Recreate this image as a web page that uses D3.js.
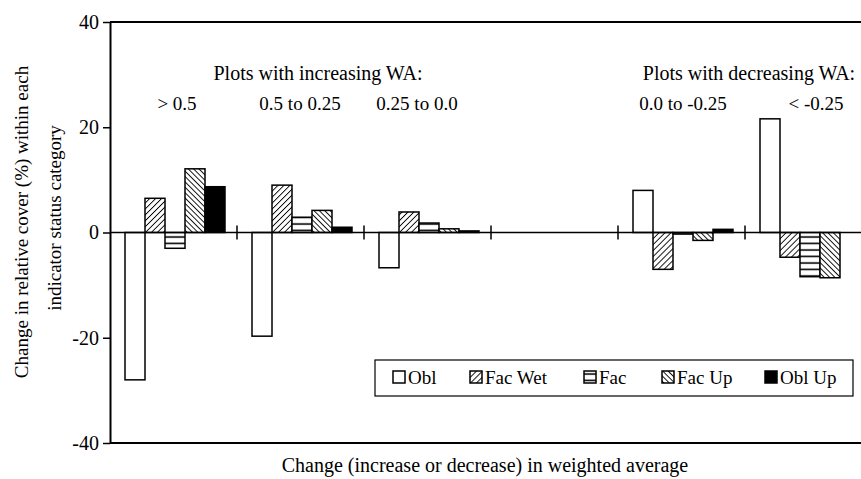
<!DOCTYPE html>
<html>
<head>
<meta charset="utf-8">
<script src="https://cdn.jsdelivr.net/npm/d3@7"></script>
<style>
  body { margin: 0; background: #fff; }
  text { font-family: "Liberation Serif", "Times New Roman", serif; fill: #000; }
</style>
</head>
<body>
<script>
// categories of change in weighted average (4th slot is an empty gap)
var categories = ["> 0.5", "0.5 to 0.25", "0.25 to 0.0", "", "0.0 to -0.25", "< -0.25"];
var series = ["Obl", "Fac Wet", "Fac", "Fac Up", "Obl Up"];

// change in relative cover (%) per indicator status
var obl    = [-28.0, -19.7, -6.7, null,  8.0, 21.6];
var facWet = [  6.5,   9.0,  3.9, null, -7.0, -4.7];
var fac    = [ -3.0,   2.9,  1.8, null, -0.3, -8.4];
var facUp  = [ 12.1,   4.2,  0.7, null, -1.5, -8.6];
var oblUp  = [  8.7,   1.0,  0.3, null,  0.6,  0.0];

var yTicks = [40, 20, 0, -20, -40];

var values = [obl, facWet, fac, facUp, oblUp];
var fills = ["#fff", "url(#facWet)", "url(#fac)", "url(#facUp)", "#000"];

var W = 861, H = 479;
var plotLeft = 110, plotTop = 22, plotBottom = 443;
var fontSize = "19px";

var svg = d3.select("body").append("svg")
    .attr("width", W)
    .attr("height", H);

// hatch patterns
var defs = svg.append("defs");
function hatch(id, size, path, angle, sw) {
    var p = defs.append("pattern")
        .attr("id", id)
        .attr("patternUnits", "userSpaceOnUse")
        .attr("width", size)
        .attr("height", size);
    if (angle) p.attr("patternTransform", "rotate(" + angle + ")");
    p.append("rect").attr("width", size).attr("height", size).attr("fill", "#fff");
    p.append("path").attr("d", path).attr("stroke", "#000").attr("stroke-width", sw);
}
hatch("facWet", 4.2, "M0,0 V4.2", 45, 1.8);
hatch("facUp", 3.8, "M0,0 V3.8", -45, 1.8);
hatch("fac", 6.5, "M0,3 H6.5", 0, 1.6);

// scales
var x = d3.scaleBand()
    .domain(categories.map(function (d, i) { return i; }))
    .range([plotLeft, plotLeft + 127 * 6]);
var xInner = d3.scaleBand()
    .domain(series)
    .range([15, 115]);
var y = d3.scaleLinear()
    .domain([-40, 40])
    .range([plotBottom, plotTop]);

// frame lines top and bottom
svg.append("line")
    .attr("x1", plotLeft).attr("x2", W)
    .attr("y1", y(40)).attr("y2", y(40))
    .attr("stroke", "#000").attr("stroke-width", 2);
svg.append("line")
    .attr("x1", plotLeft).attr("x2", W)
    .attr("y1", y(-40)).attr("y2", y(-40))
    .attr("stroke", "#000").attr("stroke-width", 2);

// Y axis (plain hyphen minus like the original)
var yAxis = svg.append("g")
    .attr("transform", "translate(" + plotLeft + ",0)")
    .call(d3.axisLeft(y)
        .tickValues(yTicks)
        .tickFormat(function (d) { return String(d); })
        .tickSize(7).tickSizeOuter(0).tickPadding(4));
yAxis.select(".domain").attr("stroke-width", 2);
yAxis.selectAll(".tick line").attr("stroke-width", 1.5);
yAxis.selectAll("text")
    .style("font-family", "Liberation Serif, serif")
    .style("font-size", "20px");

// bars
var groups = svg.selectAll("g.grp")
    .data(categories.map(function (c, i) { return i; }))
    .enter().append("g")
    .attr("class", "grp")
    .attr("transform", function (i) { return "translate(" + x(i) + ",0)"; });

groups.selectAll("rect")
    .data(function (i) {
        return series.map(function (s, k) { return { s: s, k: k, v: values[k][i] }; })
            .filter(function (d) { return d.v !== null; });
    })
    .enter().append("rect")
    .attr("x", function (d) { return xInner(d.s); })
    .attr("width", xInner.bandwidth())
    .attr("y", function (d) { return y(Math.max(0, d.v)); })
    .attr("height", function (d) { return Math.abs(y(d.v) - y(0)); })
    .attr("fill", function (d) { return fills[d.k]; })
    .attr("stroke", "#000")
    .attr("stroke-width", 1.5);

// zero line with group separator ticks
svg.append("line")
    .attr("x1", plotLeft).attr("x2", W)
    .attr("y1", y(0)).attr("y2", y(0))
    .attr("stroke", "#000").attr("stroke-width", 1.3);
svg.selectAll("line.sep")
    .data(categories.slice(1).map(function (c, i) { return i + 1; }))
    .enter().append("line")
    .attr("class", "sep")
    .attr("x1", function (i) { return x(i); })
    .attr("x2", function (i) { return x(i); })
    .attr("y1", y(0) - 7).attr("y2", y(0) + 7)
    .attr("stroke", "#000").attr("stroke-width", 1.5);

// group headings
var labelDx = [2, -2, -12, 0, 0, 6];
svg.selectAll("text.cat")
    .data(categories.map(function (c, i) { return i; }).filter(function (i) { return categories[i] !== ""; }))
    .enter().append("text")
    .attr("class", "cat")
    .attr("x", function (i) { return x(i) + 65 + labelDx[i]; })
    .attr("y", 110)
    .attr("text-anchor", "middle")
    .style("font-size", fontSize)
    .text(function (i) { return categories[i]; });

svg.append("text")
    .attr("x", 318).attr("y", 80)
    .attr("text-anchor", "middle")
    .style("font-size", "20px")
    .text("Plots with increasing WA:");
svg.append("text")
    .attr("x", 749).attr("y", 80)
    .attr("text-anchor", "middle")
    .style("font-size", "20px")
    .text("Plots with decreasing WA:");

// axis titles
svg.append("text")
    .attr("x", 485).attr("y", 472)
    .attr("text-anchor", "middle")
    .style("font-size", "20px")
    .text("Change (increase or decrease) in weighted average");

var yTitle = svg.append("text")
    .attr("transform", "translate(28,222) rotate(-90)")
    .attr("text-anchor", "middle")
    .style("font-size", fontSize);
yTitle.append("tspan").attr("x", 0).attr("y", 0)
    .text("Change in relative cover (%) within each");
yTitle.append("tspan").attr("x", 4).attr("y", 33)
    .text("indicator status category");

// legend
var legend = svg.append("g");
legend.append("rect")
    .attr("x", 375).attr("y", 360)
    .attr("width", 478).attr("height", 36)
    .attr("fill", "#fff")
    .attr("stroke", "#000").attr("stroke-width", 1.2);
var legendX = [393, 470, 584, 662, 765];
var items = legend.selectAll("g.item")
    .data(series)
    .enter().append("g")
    .attr("class", "item")
    .attr("transform", function (d, k) { return "translate(" + legendX[k] + ",371)"; });
items.append("rect")
    .attr("width", 12).attr("height", 12)
    .attr("fill", function (d, k) { return fills[k]; })
    .attr("stroke", "#000").attr("stroke-width", 1.5);
items.append("text")
    .attr("x", 15).attr("y", 12.5)
    .style("font-size", fontSize)
    .text(function (d) { return d; });
</script>
</body>
</html>
